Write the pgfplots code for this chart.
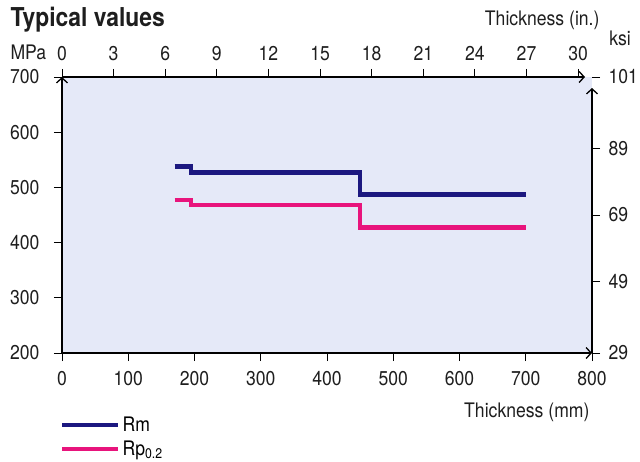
\documentclass[border=0pt]{standalone}
\usepackage{fontspec}
\setmainfont{TeX Gyre Heros}[FakeStretch=0.88]
\usepackage{pgfplots}
\pgfplotsset{compat=1.18}
\usetikzlibrary{arrows.meta}
\definecolor{bgblue}{RGB}{229,233,248}
\definecolor{navy}{RGB}{28,24,128}
\definecolor{mag}{RGB}{232,20,124}
\definecolor{txt}{RGB}{30,30,30}
\begin{document}
\begin{tikzpicture}
\useasboundingbox (-62pt,-108pt) rectangle (578pt,353pt);
\pgfplotsset{
  every axis/.append style={
    scale only axis, at={(0pt,0pt)}, anchor=south west,
    /pgf/number format/assume math mode=true,
    tick label style={font=\fontsize{20}{20}\selectfont, text=txt},
    tick align=outside, major tick length=8pt,
    axis line style={line width=1.3pt, -{Straight Barb[length=5pt,width=11pt,line width=1.3pt]}},
    tick style={line width=0.8pt, black},
  }
}
\begin{axis}[
  width=530pt, height=276pt,
  xmin=0, xmax=800, ymin=200, ymax=700,
  axis x line*=bottom, axis y line*=left,
  xtick={0,100,...,800}, ytick={200,300,...,700},
  xticklabel style={yshift=-7pt},
  yticklabel style={xshift=-11pt},
  axis background/.style={fill=bgblue},
  clip=false,
  legend style={at={(-0.004,-0.224)}, anchor=north west, draw=none, fill=none,
    font=\fontsize{20}{20}\selectfont, row sep=4pt, inner sep=0pt},
  legend cell align=left,
  legend image code/.code={\draw[#1] (0pt,0pt) -- (56pt,0pt);},
]
\addplot[navy, line width=4.5pt, line join=miter, const plot] coordinates {
  (170,538) (195,527) (450,487) (700,487)};
\addlegendentry{Rm}
\addplot[mag, line width=4.5pt, line join=miter, const plot] coordinates {
  (170,477) (195,468) (450,427) (700,427)};
\addlegendentry{Rp\textsubscript{0.2}}
\end{axis}
\begin{axis}[
  width=523pt, height=276pt,
  xmin=0, xmax=30.4, ymin=0, ymax=1,
  axis x line*=top, hide y axis,
  xtick={0,3,...,30},
  xticklabel style={yshift=5pt},
]
\end{axis}
\begin{axis}[
  width=530pt, height=276pt,
  xmin=0, xmax=1, ymin=200, ymax=700,
  axis y line*=right, hide x axis,
  ytick={200,329,450,570,700}, yticklabels={29,49,69,89,101},
  yticklabel style={xshift=5pt},
  y axis line style={shorten >=11pt},
]
\end{axis}
\node[anchor=west, font=\fontsize{26}{26}\selectfont\bfseries, text=txt] at (-55pt,333pt) {Typical values};
\node[anchor=east, font=\fontsize{20}{20}\selectfont, text=txt] at (541pt,333pt) {Thickness (in.)};
\node[font=\fontsize{20}{20}\selectfont, text=txt] at (558pt,315pt) {ksi};
\node[anchor=west, font=\fontsize{20}{20}\selectfont, text=txt] at (-55pt,301pt) {MPa};
\node[anchor=east, font=\fontsize{20}{20}\selectfont, text=txt] at (531pt,-59pt) {Thickness (mm)};
\end{tikzpicture}
\end{document}
